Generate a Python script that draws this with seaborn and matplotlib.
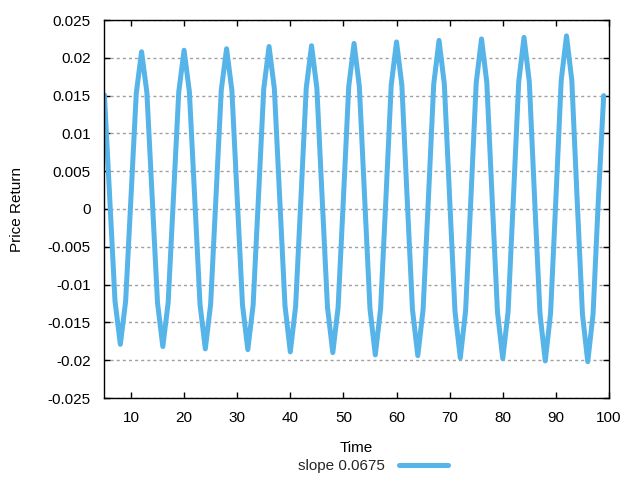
import numpy as np
import pandas as pd
import matplotlib
matplotlib.use("Agg")
import matplotlib.pyplot as plt
import seaborn as sns

# ---- data ----
time = list(range(5, 100))
price_return = [
    0.0151, 0.0015, -0.0122,
    -0.0179, -0.0122, 0.0015, 0.0153, 0.0208, 0.0154, 0.0015, -0.0124,
    -0.0182, -0.0124, 0.0015, 0.0155, 0.0210, 0.0155, 0.0015, -0.0126,
    -0.0185, -0.0126, 0.0015, 0.0157, 0.0212, 0.0157, 0.0015, -0.0127,
    -0.0186, -0.0127, 0.0015, 0.0159, 0.0215, 0.0159, 0.0015, -0.0128,
    -0.0189, -0.0129, 0.0014, 0.0160, 0.0216, 0.0160, 0.0014, -0.0130,
    -0.0190, -0.0130, 0.0014, 0.0162, 0.0219, 0.0162, 0.0014, -0.0132,
    -0.0193, -0.0132, 0.0014, 0.0164, 0.0221, 0.0164, 0.0014, -0.0133,
    -0.0194, -0.0133, 0.0014, 0.0165, 0.0223, 0.0165, 0.0014, -0.0135,
    -0.0197, -0.0135, 0.0014, 0.0167, 0.0225, 0.0167, 0.0014, -0.0136,
    -0.0198, -0.0136, 0.0014, 0.0168, 0.0227, 0.0168, 0.0013, -0.0138,
    -0.0201, -0.0138, 0.0013, 0.0170, 0.0229, 0.0170, 0.0013, -0.0139,
    -0.0202, -0.0139, 0.0013, 0.0150,
]
series_label = "slope 0.0675"
x_ticks = [10, 20, 30, 40, 50, 60, 70, 80, 90, 100]
y_ticks = [-0.025, -0.02, -0.015, -0.01, -0.005, 0, 0.005, 0.01, 0.015, 0.02, 0.025]
y_tick_labels = ["-0.025", "-0.02", "-0.015", "-0.01", "-0.005", "0",
                 "0.005", "0.01", "0.015", "0.02", "0.025"]

df = pd.DataFrame({"Time": time, "Price Return": price_return})

sns.set_theme(style="white")
plt.rcParams["font.family"] = ["Liberation Sans", "DejaVu Sans"]
plt.rcParams["font.size"] = 11

fig = plt.figure(figsize=(6.4, 4.8), dpi=100)
ax = fig.add_axes([104.4 / 640, 1 - 398 / 480, (609 - 104.4) / 640, (398 - 20) / 480])

sns.lineplot(data=df, x="Time", y="Price Return", ax=ax, color="#56B4E9",
             linewidth=3.6, label=series_label, legend=False)

ax.set_xlim(5, 100)
ax.set_ylim(-0.025, 0.025)
ax.set_xticks(x_ticks)
ax.set_xticklabels([str(t) for t in x_ticks])
ax.set_yticks(y_ticks)
ax.set_yticklabels(y_tick_labels)

ax.yaxis.grid(True, color="#a0a0a0", linestyle=(0, (2.2, 2.2)), linewidth=1.0)
ax.xaxis.grid(False)
ax.set_axisbelow(True)

for s in ax.spines.values():
    s.set_visible(True)
    s.set_color("black")
    s.set_linewidth(1.0)

ax.tick_params(axis="both", which="major", direction="in", length=4.5, width=1.0,
               color="black", labelsize=11, labelcolor="black",
               top=True, right=True, bottom=True, left=True)
ax.tick_params(axis="x", pad=9)
ax.tick_params(axis="y", pad=10)

ax.set_xlabel("Time", fontsize=11, color="black", labelpad=12)
ax.set_ylabel("Price Return", fontsize=11, color="black", labelpad=17)

handles, labels = ax.get_legend_handles_labels()
fig.legend(handles, labels, loc="center", bbox_to_anchor=(373 / 640, 1 - 466 / 480),
           frameon=False, markerfirst=False, handlelength=3.2, handletextpad=0.9,
           fontsize=11)

fig.savefig("out.png", dpi=100)
